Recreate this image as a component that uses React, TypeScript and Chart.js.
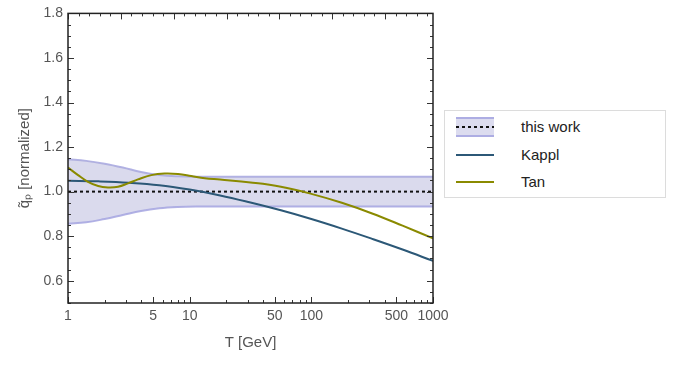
import React, { useEffect, useRef } from "react";
import { Chart, registerables } from "chart.js";

Chart.register(...registerables);

// ---- data ----
const bandT = [1, 1.41, 2.0, 2.82, 3.98, 5.62, 7.94, 11.2, 31.6, 100, 316, 1000];
const bandUpper = [1.145, 1.138, 1.125, 1.108, 1.088, 1.075, 1.069, 1.067, 1.067, 1.067, 1.067, 1.067];
const bandLower = [0.856, 0.862, 0.877, 0.895, 0.913, 0.925, 0.931, 0.933, 0.933, 0.933, 0.933, 0.933];

const thisWorkT = [1, 1000];
const thisWork = [1.0, 1.0];

const kapplT = [1, 1.78, 3.16, 5.62, 10, 17.8, 31.6, 56.2, 100, 178, 316, 562, 1000];
const kappl = [1.049, 1.046, 1.04, 1.029, 1.009, 0.983, 0.951, 0.916, 0.877, 0.834, 0.788, 0.74, 0.689];

const tanT = [1, 1.21, 1.46, 1.77, 2.13, 2.58, 3.11, 3.76, 4.84, 6.22, 8.02, 10.3, 13.3, 17.8, 31.6, 56.2, 100, 178, 316, 562, 1000];
const tan = [1.108, 1.074, 1.044, 1.025, 1.019, 1.022, 1.037, 1.055, 1.074, 1.081, 1.079, 1.07, 1.06, 1.054, 1.041, 1.022, 0.99, 0.95, 0.902, 0.847, 0.79];

const xTickValues = [1, 5, 10, 50, 100, 500, 1000];
const yTickValues = [0.6, 0.8, 1.0, 1.2, 1.4, 1.6, 1.8];

const legendLabels = ["this work", "Kappl", "Tan"];

const KAPPL_COLOR = "#2c5877";
const TAN_COLOR = "#8a8a00";
const BAND_FILL = "rgba(172,172,216,0.45)";
const BAND_EDGE = "rgba(165,165,225,0.85)";
const FONT = "'Liberation Sans', Arial, sans-serif";
const TEXT = "#555";

const pts = (xs: number[], ys: number[]) => xs.map((x, i) => ({ x, y: ys[i] }));

const frameTicks = {
  id: "frameTicks",
  afterDraw(chart: any) {
    const { ctx, chartArea } = chart;
    const { left, right, top, bottom } = chartArea;
    const x = chart.scales.x;
    const y = chart.scales.y;
    ctx.save();
    ctx.strokeStyle = "#333";
    ctx.lineWidth = 1;
    ctx.beginPath();
    for (let d = 1; d <= 1000; d *= 10) {
      for (let m = 1; m <= 9; m++) {
        const v = m * d;
        if (v > 1000) break;
        const px = Math.round(x.getPixelForValue(v)) + 0.5;
        const len = xTickValues.includes(v) ? 6 : 3;
        ctx.moveTo(px, bottom);
        ctx.lineTo(px, bottom - len);
      }
    }
    for (let k = 0; k <= 35; k++) {
      const v = Math.exp(k * 0.2);
      if (v > 1000) break;
      const px = Math.round(x.getPixelForValue(v)) + 0.5;
      const len = k % 5 === 0 ? 6 : 3;
      ctx.moveTo(px, top);
      ctx.lineTo(px, top + len);
    }
    for (let k = 10; k <= 36; k++) {
      const v = k * 0.05;
      const py = Math.round(y.getPixelForValue(v)) + 0.5;
      const len = k % 4 === 0 ? 6 : 3;
      ctx.moveTo(left, py);
      ctx.lineTo(left + len, py);
      ctx.moveTo(right, py);
      ctx.lineTo(right - len, py);
    }
    ctx.stroke();
    ctx.lineWidth = 1.5;
    ctx.strokeStyle = "#222";
    ctx.strokeRect(left, top, right - left, bottom - top);
    ctx.restore();
  },
};

export default function App() {
  const ref = useRef<HTMLCanvasElement | null>(null);

  useEffect(() => {
    if (!ref.current) return;
    const line = (extra: any) => ({ pointRadius: 0, borderWidth: 2, fill: false, tension: 0.4, ...extra });
    const chart = new Chart(ref.current, {
      type: "line",
      data: {
        datasets: [
          line({ label: "upper", data: pts(bandT, bandUpper), borderColor: BAND_EDGE, order: 4 }),
          line({
            label: "lower",
            data: pts(bandT, bandLower),
            borderColor: BAND_EDGE,
            backgroundColor: BAND_FILL,
            fill: "-1",
            order: 3,
          }),
          line({
            label: legendLabels[0],
            data: pts(thisWorkT, thisWork),
            borderColor: "#111",
            borderDash: [3, 3],
            tension: 0,
            order: 2,
          }),
          line({ label: legendLabels[1], data: pts(kapplT, kappl), borderColor: KAPPL_COLOR, order: 1 }),
          line({ label: legendLabels[2], data: pts(tanT, tan), borderColor: TAN_COLOR, order: 0 }),
        ],
      },
      options: {
        responsive: false,
        animation: false,
        layout: { padding: { left: 0, right: 248, top: 10, bottom: 0 } },
        plugins: { legend: { display: false }, tooltip: { enabled: false } },
        scales: {
          x: {
            type: "logarithmic",
            min: 1,
            max: 1000,
            afterFit: (s: any) => {
              s.height = 66;
            },
            afterBuildTicks: (s: any) => {
              s.ticks = xTickValues.map((v) => ({ value: v }));
            },
            grid: { display: false, drawTicks: false },
            border: { display: false },
            ticks: {
              autoSkip: false,
              maxRotation: 0,
              padding: 5,
              color: TEXT,
              font: { family: FONT, size: 14 },
              callback: (v: any) => String(v),
            },
            title: {
              display: true,
              text: "T [GeV]",
              color: TEXT,
              font: { family: FONT, size: 15 },
              padding: { top: 0, bottom: 17 },
            },
          },
          y: {
            type: "linear",
            min: 0.5,
            max: 1.8,
            afterFit: (s: any) => {
              s.width = 68;
            },
            afterBuildTicks: (s: any) => {
              s.ticks = yTickValues.map((v) => ({ value: v }));
            },
            grid: { display: false, drawTicks: false },
            border: { display: false },
            ticks: {
              padding: 5,
              color: TEXT,
              font: { family: FONT, size: 14 },
              callback: (v: any) => Number(v).toFixed(1),
            },
            title: {
              display: true,
              text: "q\u0303\u209A [normalized]",
              color: TEXT,
              font: { family: FONT, size: 15 },
              padding: { top: 16, bottom: 0 },
            },
          },
        },
      },
      plugins: [frameTicks],
    } as any);
    return () => chart.destroy();
  }, []);

  const textStyle = (center: number): React.CSSProperties => ({
    position: "absolute",
    left: 76,
    top: center - 9,
    height: 18,
    lineHeight: "18px",
    fontFamily: FONT,
    fontSize: 15,
    color: "#222",
    whiteSpace: "nowrap",
  });

  return (
    <div style={{ position: "absolute", left: 0, top: 0, width: 681, height: 369, background: "#fff" }}>
      <canvas ref={ref} width={681} height={369} style={{ display: "block" }} />
      <div
        style={{
          position: "absolute",
          left: 444,
          top: 110,
          width: 222,
          height: 88,
          border: "1px solid #dcdcdc",
          background: "#fff",
          boxSizing: "border-box",
        }}
      >
        <div
          style={{
            position: "absolute",
            left: 11,
            top: 6,
            width: 38,
            height: 20,
            background: "#dcdcef",
            borderTop: `2px solid ${BAND_EDGE}`,
            borderBottom: `2px solid ${BAND_EDGE}`,
            boxSizing: "border-box",
          }}
        >
          <div
            style={{
              position: "absolute",
              left: 0,
              top: 7,
              width: 38,
              height: 2,
              backgroundImage: "repeating-linear-gradient(90deg, #111 0 3px, transparent 3px 6px)",
            }}
          />
        </div>
        <div style={textStyle(16)}>{legendLabels[0]}</div>
        <div style={{ position: "absolute", left: 11, top: 43, width: 38, height: 2, background: KAPPL_COLOR }} />
        <div style={textStyle(44)}>{legendLabels[1]}</div>
        <div style={{ position: "absolute", left: 11, top: 70, width: 38, height: 2, background: TAN_COLOR }} />
        <div style={textStyle(71)}>{legendLabels[2]}</div>
      </div>
    </div>
  );
}
